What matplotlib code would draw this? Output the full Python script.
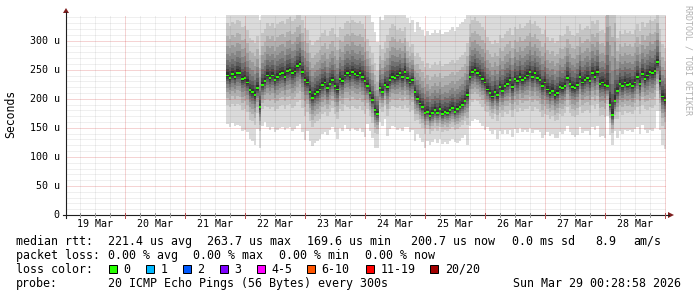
import numpy as np
import matplotlib
matplotlib.use("Agg")
import matplotlib.pyplot as plt
from matplotlib.lines import Line2D
from matplotlib.patches import Polygon, Rectangle
from matplotlib.transforms import blended_transform_factory

# hourly median rtt (us), 21 Mar 17:00 .. 29 Mar 00:00
med_us = [
    240, 236, 242, 238, 245, 244, 234, 236,
    228, 215, 212, 206, 218, 186, 224, 230,
    240, 236, 240, 232, 238, 242, 244, 238,
    248, 250, 244, 247, 256, 260, 246, 232,
    228, 212, 202, 208, 212, 216, 224, 228,
    218, 226, 232, 222, 216, 234, 230, 240,
    244, 240, 246, 242, 240, 244, 238, 230,
    222, 210, 198, 180, 174, 218, 212, 224,
    220, 232, 238, 236, 240, 244, 238, 246,
    236, 228, 232, 212, 200, 192, 186, 176,
    178, 170, 175, 180, 176, 182, 174, 178,
    176, 180, 184, 178, 182, 186, 190, 196,
    206, 238, 246, 250, 244, 240, 234, 228,
    216, 210, 204, 212, 206, 220, 214, 222,
    226, 232, 220, 234, 230, 238, 232, 236,
    240, 246, 238, 244, 236, 232, 222, 228,
    216, 210, 214, 206, 210, 220, 218, 222,
    236, 226, 220, 218, 224, 238, 228, 232,
    236, 230, 244, 238, 246, 226, 228, 224,
    222, 190, 172, 196, 214, 226, 222, 228,
    224, 226, 222, 228, 238, 226, 242, 234,
    240, 246, 244, 248, 263, 230, 204, 198,
]
# smoke reach below / above the median (us), per 4 hours
lo_spread_us = [84, 90, 85, 70, 89, 92, 99, 103, 84, 85, 80, 85, 96, 95, 65, 58,
                84, 94, 85, 60, 50, 52, 53, 58, 85, 81, 65, 75, 86, 89, 97, 90,
                74, 78, 83, 87, 92, 92, 52, 82, 80, 87, 99, 84]
hi_spread_us = [150, 150, 150, 150, 150, 150, 150, 150, 150, 150, 150, 150, 150, 150, 135, 123,
                150, 130, 103, 132, 139, 137, 139, 142, 150, 150, 150, 150, 150, 150, 150, 150,
                150, 150, 150, 150, 150, 150, 300, 150, 150, 150, 150, 150]

day_labels = ["19 Mar", "20 Mar", "21 Mar", "22 Mar", "23 Mar",
              "24 Mar", "25 Mar", "26 Mar", "27 Mar", "28 Mar"]
ytick_vals = [0, 50, 100, 150, 200, 250, 300]

rtt_items = ["median rtt:", "221.4 us avg", "263.7 us max", "169.6 us min",
             "200.7 us now", "0.0 ms sd", "8.9", "am/s"]
loss_items = ["packet loss:", "0.00 % avg", "0.00 % max", "0.00 % min", "0.00 % now"]
loss_labels = ["0", "1", "2", "3", "4-5", "6-10", "11-19", "20/20"]
loss_colors = ["#26ff00", "#00b8ff", "#0059ff", "#7e00ff",
               "#ff00ff", "#ff5500", "#ff0000", "#a10000"]
probe_text = "20 ICMP Echo Pings (56 Bytes) every 300s"
stamp_text = "Sun Mar 29 00:28:58 2026"

W, H = 697, 297
MONO = "DejaVu Sans Mono"
plt.rcParams["font.family"] = MONO

fig = plt.figure(figsize=(W / 100, H / 100), dpi=100)
fig.patch.set_facecolor("white")

def fx(px):
    return px / W

def fy(py):
    return 1 - py / H

ax = fig.add_axes([fx(66), fy(215), 600 / W, 200 / H])
ax.set_facecolor("white")
for s in ax.spines.values():
    s.set_visible(False)
ax.set_xticks([])
ax.set_yticks([])

t0 = (28 * 60 + 58) / 86400.0   # days after 19 Mar 00:00
t1 = t0 + 10

# smoke
med = np.array(med_us, dtype=float)
n = len(med)
edges = 2 + (16.5 + np.arange(n + 1)) / 24.0
lo = np.repeat(lo_spread_us, 4)[:n].astype(float)
hi = np.repeat(hi_spread_us, 4)[:n].astype(float)

band_frac = [1.0, 0.6, 0.45, 0.34, 0.25, 0.18, 0.12, 0.075, 0.037]
band_gray = [218, 197, 176, 155, 134, 113, 92, 71, 50]
for f, g in zip(band_frac, band_gray):
    ax.stairs(med + f * hi, edges, baseline=med - f * lo, fill=True,
              facecolor=(g / 255,) * 3, edgecolor="none", lw=0, zorder=2)

# median ticks
ax.stairs(med + 1.6, edges, baseline=med - 1.6, fill=True,
          facecolor="#26ff00", edgecolor="none", lw=0, zorder=3)

ax.set_xlim(t0, t1)
ax.set_ylim(0, 344.2)

# grid
dot = (0, (1, 1))
grey = (0.45, 0.45, 0.45, 0.22)
red = (0.8, 0.1, 0.1, 0.38)
for v in range(10, 345, 10):
    ax.axhline(v, color=red if v % 50 == 0 else grey, ls=dot, lw=0.72, zorder=4)
for k in range(1, 41):
    d = k / 4.0
    if t0 < d < t1:
        ax.axvline(d, color=red if k % 4 == 0 else grey, ls=dot, lw=0.72, zorder=4)

# axes lines and arrows
axis_col = "#1f1f1f"
arrow_col = "#7f1f1f"
fig.add_artist(Line2D([fx(66), fx(66)], [fy(218), fy(12)], color=axis_col, lw=0.8))
fig.add_artist(Line2D([fx(63), fx(669)], [fy(215), fy(215)], color=axis_col, lw=0.8))
fig.add_artist(Polygon([(fx(63), fy(13)), (fx(69), fy(13)), (fx(66), fy(8))],
                       closed=True, color=arrow_col, lw=0))
fig.add_artist(Polygon([(fx(668), fy(212)), (fx(668), fy(218)), (fx(674), fy(215))],
                       closed=True, color=arrow_col, lw=0))

# small ticks on the time axis
tx = blended_transform_factory(ax.transData, fig.transFigure)
for k in range(1, 41):
    d = k / 4.0
    if t0 < d < t1:
        major = k % 4 == 0
        ln = Line2D([d, d], [fy(213), fy(218 if major else 217)], transform=tx,
                    color=(0.7, 0.3, 0.3) if major else (0.6, 0.6, 0.6), lw=0.72)
        fig.add_artist(ln)

# y labels
ty = blended_transform_factory(fig.transFigure, ax.transData)
for v in ytick_vals:
    lab = "0" if v == 0 else f"{v} u"
    fig.text(fx(59.8), v, lab, transform=ty, ha="right", va="center",
             fontsize=7.2, color="black")

# x labels at noon
for i, lab in enumerate(day_labels):
    fig.text(i + 0.5, fy(224), lab, transform=tx, ha="center", va="center",
             fontsize=7.2, color="black")

fig.text(fx(11), fy(114), "Seconds", rotation=90, ha="center", va="center",
         fontsize=8.3)
fig.text(fx(688), fy(60), "RRDTOOL / TOBI OETIKER", rotation=-90, ha="center",
         va="center", fontsize=6, color="#b0b0b0")

# legend
fs = 8.4
rtt_x = [16, 107.5, 207.3, 307.3, 411, 512.5, 595, 633]
for x, s in zip(rtt_x, rtt_items):
    fig.text(fx(x), fy(245), s, ha="left", va="baseline", fontsize=fs)

loss_x = [16, 107.5, 193.3, 279.3, 365.3]
for x, s in zip(loss_x, loss_items):
    fig.text(fx(x), fy(259), s, ha="left", va="baseline", fontsize=fs)

fig.text(fx(16), fy(273), "loss color:", ha="left", va="baseline", fontsize=fs)
box_x = [108.7, 145.7, 183, 220, 256.7, 306.7, 365.7, 430.3]
for bx, lab, col in zip(box_x, loss_labels, loss_colors):
    fig.add_artist(Rectangle((fx(bx), fy(273)), 8 / W, 8 / H, facecolor=col,
                             edgecolor="black", lw=0.72))
    fig.text(fx(bx + 14.6), fy(273), lab, ha="left", va="baseline", fontsize=fs)

fig.text(fx(16), fy(287), "probe:", ha="left", va="baseline", fontsize=fs)
fig.text(fx(107.5), fy(287), probe_text, ha="left", va="baseline", fontsize=fs)
fig.text(fx(681), fy(287), stamp_text, ha="right", va="baseline", fontsize=fs)

fig.savefig("out.png", dpi=100, facecolor="white")
